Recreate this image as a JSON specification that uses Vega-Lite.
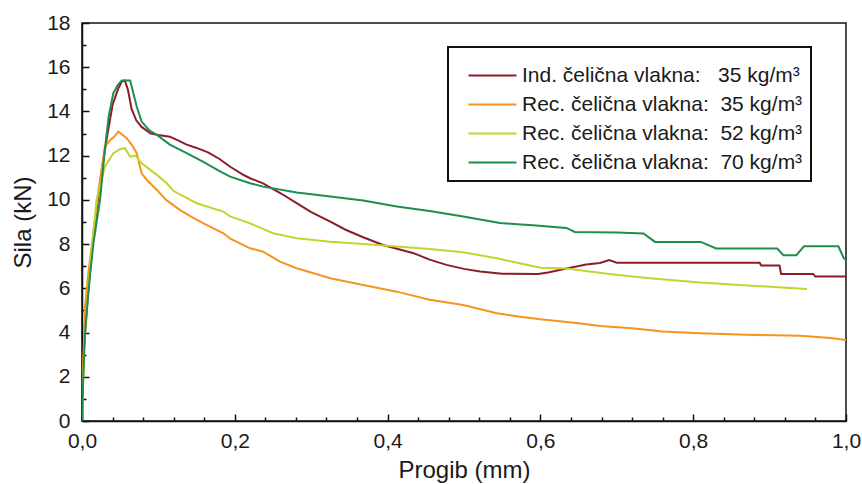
{
  "$schema": "https://vega.github.io/schema/vega-lite/v6.json",
  "width": 764,
  "height": 398,
  "autosize": "none",
  "padding": {"left": 82, "top": 23, "right": 16, "bottom": 63},
  "background": "white",
  "config": {
    "view": {"stroke": "#111", "strokeWidth": 1.5},
    "font": "Liberation Sans",
    "axis": {
      "domainColor": "#111", "domainWidth": 1.5, "tickColor": "#111", "tickWidth": 1.5,
      "labelFont": "Liberation Sans", "labelFontSize": 21, "labelColor": "#1a1a1a",
      "titleFont": "Liberation Sans", "titleFontSize": 24, "titleFontWeight": "normal", "titleColor": "#1a1a1a",
      "grid": false
    }
  },
  "data": {"values": [
    {"s": "Ind. čelična vlakna:\u00a0\u00a0 35 kg/m³", "x": 0, "y": 0},
    {"s": "Ind. čelična vlakna:\u00a0\u00a0 35 kg/m³", "x": 0.001, "y": 2.5},
    {"s": "Ind. čelična vlakna:\u00a0\u00a0 35 kg/m³", "x": 0.004, "y": 4.0},
    {"s": "Ind. čelična vlakna:\u00a0\u00a0 35 kg/m³", "x": 0.008, "y": 5.8},
    {"s": "Ind. čelična vlakna:\u00a0\u00a0 35 kg/m³", "x": 0.013, "y": 7.7},
    {"s": "Ind. čelična vlakna:\u00a0\u00a0 35 kg/m³", "x": 0.02, "y": 9.8},
    {"s": "Ind. čelična vlakna:\u00a0\u00a0 35 kg/m³", "x": 0.027, "y": 11.6},
    {"s": "Ind. čelična vlakna:\u00a0\u00a0 35 kg/m³", "x": 0.033, "y": 12.9},
    {"s": "Ind. čelična vlakna:\u00a0\u00a0 35 kg/m³", "x": 0.04, "y": 14.3},
    {"s": "Ind. čelična vlakna:\u00a0\u00a0 35 kg/m³", "x": 0.047, "y": 15.0},
    {"s": "Ind. čelična vlakna:\u00a0\u00a0 35 kg/m³", "x": 0.052, "y": 15.35},
    {"s": "Ind. čelična vlakna:\u00a0\u00a0 35 kg/m³", "x": 0.056, "y": 15.4},
    {"s": "Ind. čelična vlakna:\u00a0\u00a0 35 kg/m³", "x": 0.06, "y": 15.0},
    {"s": "Ind. čelična vlakna:\u00a0\u00a0 35 kg/m³", "x": 0.065, "y": 14.1},
    {"s": "Ind. čelična vlakna:\u00a0\u00a0 35 kg/m³", "x": 0.071, "y": 13.6},
    {"s": "Ind. čelična vlakna:\u00a0\u00a0 35 kg/m³", "x": 0.078, "y": 13.3},
    {"s": "Ind. čelična vlakna:\u00a0\u00a0 35 kg/m³", "x": 0.09, "y": 13.0},
    {"s": "Ind. čelična vlakna:\u00a0\u00a0 35 kg/m³", "x": 0.1, "y": 12.93},
    {"s": "Ind. čelična vlakna:\u00a0\u00a0 35 kg/m³", "x": 0.115, "y": 12.86},
    {"s": "Ind. čelična vlakna:\u00a0\u00a0 35 kg/m³", "x": 0.125, "y": 12.7},
    {"s": "Ind. čelična vlakna:\u00a0\u00a0 35 kg/m³", "x": 0.137, "y": 12.5},
    {"s": "Ind. čelična vlakna:\u00a0\u00a0 35 kg/m³", "x": 0.15, "y": 12.35},
    {"s": "Ind. čelična vlakna:\u00a0\u00a0 35 kg/m³", "x": 0.165, "y": 12.15},
    {"s": "Ind. čelična vlakna:\u00a0\u00a0 35 kg/m³", "x": 0.18, "y": 11.85},
    {"s": "Ind. čelična vlakna:\u00a0\u00a0 35 kg/m³", "x": 0.194, "y": 11.5},
    {"s": "Ind. čelična vlakna:\u00a0\u00a0 35 kg/m³", "x": 0.21, "y": 11.15},
    {"s": "Ind. čelična vlakna:\u00a0\u00a0 35 kg/m³", "x": 0.22, "y": 10.98},
    {"s": "Ind. čelična vlakna:\u00a0\u00a0 35 kg/m³", "x": 0.237, "y": 10.75},
    {"s": "Ind. čelična vlakna:\u00a0\u00a0 35 kg/m³", "x": 0.26, "y": 10.3},
    {"s": "Ind. čelična vlakna:\u00a0\u00a0 35 kg/m³", "x": 0.281, "y": 9.85},
    {"s": "Ind. čelična vlakna:\u00a0\u00a0 35 kg/m³", "x": 0.3, "y": 9.45},
    {"s": "Ind. čelična vlakna:\u00a0\u00a0 35 kg/m³", "x": 0.325, "y": 9.02},
    {"s": "Ind. čelična vlakna:\u00a0\u00a0 35 kg/m³", "x": 0.345, "y": 8.65},
    {"s": "Ind. čelična vlakna:\u00a0\u00a0 35 kg/m³", "x": 0.368, "y": 8.31},
    {"s": "Ind. čelična vlakna:\u00a0\u00a0 35 kg/m³", "x": 0.394, "y": 7.96},
    {"s": "Ind. čelična vlakna:\u00a0\u00a0 35 kg/m³", "x": 0.434, "y": 7.59},
    {"s": "Ind. čelična vlakna:\u00a0\u00a0 35 kg/m³", "x": 0.455, "y": 7.3},
    {"s": "Ind. čelična vlakna:\u00a0\u00a0 35 kg/m³", "x": 0.477, "y": 7.06},
    {"s": "Ind. čelična vlakna:\u00a0\u00a0 35 kg/m³", "x": 0.5, "y": 6.88},
    {"s": "Ind. čelična vlakna:\u00a0\u00a0 35 kg/m³", "x": 0.521, "y": 6.76},
    {"s": "Ind. čelična vlakna:\u00a0\u00a0 35 kg/m³", "x": 0.55, "y": 6.66},
    {"s": "Ind. čelična vlakna:\u00a0\u00a0 35 kg/m³", "x": 0.597, "y": 6.65},
    {"s": "Ind. čelična vlakna:\u00a0\u00a0 35 kg/m³", "x": 0.61, "y": 6.72},
    {"s": "Ind. čelična vlakna:\u00a0\u00a0 35 kg/m³", "x": 0.634, "y": 6.9},
    {"s": "Ind. čelična vlakna:\u00a0\u00a0 35 kg/m³", "x": 0.66, "y": 7.08},
    {"s": "Ind. čelična vlakna:\u00a0\u00a0 35 kg/m³", "x": 0.678, "y": 7.15},
    {"s": "Ind. čelična vlakna:\u00a0\u00a0 35 kg/m³", "x": 0.69, "y": 7.28},
    {"s": "Ind. čelična vlakna:\u00a0\u00a0 35 kg/m³", "x": 0.7, "y": 7.16},
    {"s": "Ind. čelična vlakna:\u00a0\u00a0 35 kg/m³", "x": 0.887, "y": 7.16},
    {"s": "Ind. čelična vlakna:\u00a0\u00a0 35 kg/m³", "x": 0.889, "y": 7.03},
    {"s": "Ind. čelična vlakna:\u00a0\u00a0 35 kg/m³", "x": 0.913, "y": 7.03},
    {"s": "Ind. čelična vlakna:\u00a0\u00a0 35 kg/m³", "x": 0.915, "y": 6.65},
    {"s": "Ind. čelična vlakna:\u00a0\u00a0 35 kg/m³", "x": 0.957, "y": 6.65},
    {"s": "Ind. čelična vlakna:\u00a0\u00a0 35 kg/m³", "x": 0.96, "y": 6.53},
    {"s": "Ind. čelična vlakna:\u00a0\u00a0 35 kg/m³", "x": 1.0, "y": 6.53},

    {"s": "Rec. čelična vlakna:\u00a0 35 kg/m³", "x": 0, "y": 0},
    {"s": "Rec. čelična vlakna:\u00a0 35 kg/m³", "x": 0.002, "y": 3.0},
    {"s": "Rec. čelična vlakna:\u00a0 35 kg/m³", "x": 0.004, "y": 5.17},
    {"s": "Rec. čelična vlakna:\u00a0 35 kg/m³", "x": 0.008, "y": 6.6},
    {"s": "Rec. čelična vlakna:\u00a0 35 kg/m³", "x": 0.0127, "y": 7.9},
    {"s": "Rec. čelična vlakna:\u00a0 35 kg/m³", "x": 0.021, "y": 10.3},
    {"s": "Rec. čelična vlakna:\u00a0 35 kg/m³", "x": 0.03, "y": 12.4},
    {"s": "Rec. čelična vlakna:\u00a0 35 kg/m³", "x": 0.0366, "y": 12.7},
    {"s": "Rec. čelična vlakna:\u00a0 35 kg/m³", "x": 0.042, "y": 12.85},
    {"s": "Rec. čelična vlakna:\u00a0 35 kg/m³", "x": 0.0475, "y": 13.09},
    {"s": "Rec. čelična vlakna:\u00a0 35 kg/m³", "x": 0.0585, "y": 12.79},
    {"s": "Rec. čelična vlakna:\u00a0 35 kg/m³", "x": 0.065, "y": 12.5},
    {"s": "Rec. čelična vlakna:\u00a0 35 kg/m³", "x": 0.0716, "y": 12.11},
    {"s": "Rec. čelična vlakna:\u00a0 35 kg/m³", "x": 0.078, "y": 11.2},
    {"s": "Rec. čelična vlakna:\u00a0 35 kg/m³", "x": 0.085, "y": 10.9},
    {"s": "Rec. čelična vlakna:\u00a0 35 kg/m³", "x": 0.098, "y": 10.45},
    {"s": "Rec. čelična vlakna:\u00a0 35 kg/m³", "x": 0.11, "y": 10.0},
    {"s": "Rec. čelična vlakna:\u00a0 35 kg/m³", "x": 0.128, "y": 9.55},
    {"s": "Rec. čelična vlakna:\u00a0 35 kg/m³", "x": 0.145, "y": 9.2},
    {"s": "Rec. čelična vlakna:\u00a0 35 kg/m³", "x": 0.159, "y": 8.94},
    {"s": "Rec. čelična vlakna:\u00a0 35 kg/m³", "x": 0.185, "y": 8.49},
    {"s": "Rec. čelična vlakna:\u00a0 35 kg/m³", "x": 0.194, "y": 8.25},
    {"s": "Rec. čelična vlakna:\u00a0 35 kg/m³", "x": 0.22, "y": 7.81},
    {"s": "Rec. čelična vlakna:\u00a0 35 kg/m³", "x": 0.237, "y": 7.66},
    {"s": "Rec. čelična vlakna:\u00a0 35 kg/m³", "x": 0.259, "y": 7.21},
    {"s": "Rec. čelična vlakna:\u00a0 35 kg/m³", "x": 0.281, "y": 6.91},
    {"s": "Rec. čelična vlakna:\u00a0 35 kg/m³", "x": 0.325, "y": 6.46},
    {"s": "Rec. čelična vlakna:\u00a0 35 kg/m³", "x": 0.368, "y": 6.15},
    {"s": "Rec. čelična vlakna:\u00a0 35 kg/m³", "x": 0.412, "y": 5.85},
    {"s": "Rec. čelična vlakna:\u00a0 35 kg/m³", "x": 0.455, "y": 5.48},
    {"s": "Rec. čelična vlakna:\u00a0 35 kg/m³", "x": 0.499, "y": 5.25},
    {"s": "Rec. čelična vlakna:\u00a0 35 kg/m³", "x": 0.543, "y": 4.87},
    {"s": "Rec. čelična vlakna:\u00a0 35 kg/m³", "x": 0.573, "y": 4.72},
    {"s": "Rec. čelična vlakna:\u00a0 35 kg/m³", "x": 0.6, "y": 4.6},
    {"s": "Rec. čelična vlakna:\u00a0 35 kg/m³", "x": 0.65, "y": 4.42},
    {"s": "Rec. čelična vlakna:\u00a0 35 kg/m³", "x": 0.678, "y": 4.3},
    {"s": "Rec. čelična vlakna:\u00a0 35 kg/m³", "x": 0.72, "y": 4.2},
    {"s": "Rec. čelična vlakna:\u00a0 35 kg/m³", "x": 0.76, "y": 4.05},
    {"s": "Rec. čelična vlakna:\u00a0 35 kg/m³", "x": 0.809, "y": 3.97},
    {"s": "Rec. čelična vlakna:\u00a0 35 kg/m³", "x": 0.87, "y": 3.9},
    {"s": "Rec. čelična vlakna:\u00a0 35 kg/m³", "x": 0.94, "y": 3.85},
    {"s": "Rec. čelična vlakna:\u00a0 35 kg/m³", "x": 0.98, "y": 3.75},
    {"s": "Rec. čelična vlakna:\u00a0 35 kg/m³", "x": 1.0, "y": 3.66},

    {"s": "Rec. čelična vlakna:\u00a0 52 kg/m³", "x": 0, "y": 0},
    {"s": "Rec. čelična vlakna:\u00a0 52 kg/m³", "x": 0.001, "y": 1.5},
    {"s": "Rec. čelična vlakna:\u00a0 52 kg/m³", "x": 0.003, "y": 3.5},
    {"s": "Rec. čelična vlakna:\u00a0 52 kg/m³", "x": 0.007, "y": 5.5},
    {"s": "Rec. čelična vlakna:\u00a0 52 kg/m³", "x": 0.012, "y": 7.5},
    {"s": "Rec. čelična vlakna:\u00a0 52 kg/m³", "x": 0.019, "y": 10.0},
    {"s": "Rec. čelična vlakna:\u00a0 52 kg/m³", "x": 0.03, "y": 11.5},
    {"s": "Rec. čelična vlakna:\u00a0 52 kg/m³", "x": 0.041, "y": 12.11},
    {"s": "Rec. čelična vlakna:\u00a0 52 kg/m³", "x": 0.05, "y": 12.3},
    {"s": "Rec. čelična vlakna:\u00a0 52 kg/m³", "x": 0.056, "y": 12.34},
    {"s": "Rec. čelična vlakna:\u00a0 52 kg/m³", "x": 0.063, "y": 11.96},
    {"s": "Rec. čelična vlakna:\u00a0 52 kg/m³", "x": 0.07, "y": 12.0},
    {"s": "Rec. čelična vlakna:\u00a0 52 kg/m³", "x": 0.078, "y": 11.66},
    {"s": "Rec. čelična vlakna:\u00a0 52 kg/m³", "x": 0.098, "y": 11.13},
    {"s": "Rec. čelična vlakna:\u00a0 52 kg/m³", "x": 0.111, "y": 10.75},
    {"s": "Rec. čelična vlakna:\u00a0 52 kg/m³", "x": 0.12, "y": 10.4},
    {"s": "Rec. čelična vlakna:\u00a0 52 kg/m³", "x": 0.15, "y": 9.85},
    {"s": "Rec. čelična vlakna:\u00a0 52 kg/m³", "x": 0.185, "y": 9.47},
    {"s": "Rec. čelična vlakna:\u00a0 52 kg/m³", "x": 0.194, "y": 9.25},
    {"s": "Rec. čelična vlakna:\u00a0 52 kg/m³", "x": 0.22, "y": 8.94},
    {"s": "Rec. čelična vlakna:\u00a0 52 kg/m³", "x": 0.25, "y": 8.49},
    {"s": "Rec. čelična vlakna:\u00a0 52 kg/m³", "x": 0.281, "y": 8.27},
    {"s": "Rec. čelična vlakna:\u00a0 52 kg/m³", "x": 0.325, "y": 8.11},
    {"s": "Rec. čelična vlakna:\u00a0 52 kg/m³", "x": 0.368, "y": 8.0},
    {"s": "Rec. čelična vlakna:\u00a0 52 kg/m³", "x": 0.412, "y": 7.89},
    {"s": "Rec. čelična vlakna:\u00a0 52 kg/m³", "x": 0.455, "y": 7.78},
    {"s": "Rec. čelična vlakna:\u00a0 52 kg/m³", "x": 0.499, "y": 7.63},
    {"s": "Rec. čelična vlakna:\u00a0 52 kg/m³", "x": 0.543, "y": 7.36},
    {"s": "Rec. čelična vlakna:\u00a0 52 kg/m³", "x": 0.573, "y": 7.13},
    {"s": "Rec. čelična vlakna:\u00a0 52 kg/m³", "x": 0.6, "y": 6.93},
    {"s": "Rec. čelična vlakna:\u00a0 52 kg/m³", "x": 0.634, "y": 6.9},
    {"s": "Rec. čelična vlakna:\u00a0 52 kg/m³", "x": 0.69, "y": 6.65},
    {"s": "Rec. čelična vlakna:\u00a0 52 kg/m³", "x": 0.743, "y": 6.46},
    {"s": "Rec. čelična vlakna:\u00a0 52 kg/m³", "x": 0.809, "y": 6.26},
    {"s": "Rec. čelična vlakna:\u00a0 52 kg/m³", "x": 0.896, "y": 6.08},
    {"s": "Rec. čelična vlakna:\u00a0 52 kg/m³", "x": 0.949, "y": 5.97},

    {"s": "Rec. čelična vlakna:\u00a0 70 kg/m³", "x": 0, "y": 0},
    {"s": "Rec. čelična vlakna:\u00a0 70 kg/m³", "x": 0.0017, "y": 2.0},
    {"s": "Rec. čelična vlakna:\u00a0 70 kg/m³", "x": 0.004, "y": 3.98},
    {"s": "Rec. čelična vlakna:\u00a0 70 kg/m³", "x": 0.0075, "y": 5.47},
    {"s": "Rec. čelična vlakna:\u00a0 70 kg/m³", "x": 0.0105, "y": 6.6},
    {"s": "Rec. čelična vlakna:\u00a0 70 kg/m³", "x": 0.015, "y": 8.04},
    {"s": "Rec. čelična vlakna:\u00a0 70 kg/m³", "x": 0.02, "y": 9.2},
    {"s": "Rec. čelična vlakna:\u00a0 70 kg/m³", "x": 0.0236, "y": 10.0},
    {"s": "Rec. čelična vlakna:\u00a0 70 kg/m³", "x": 0.03, "y": 12.3},
    {"s": "Rec. čelična vlakna:\u00a0 70 kg/m³", "x": 0.035, "y": 13.8},
    {"s": "Rec. čelična vlakna:\u00a0 70 kg/m³", "x": 0.041, "y": 14.83},
    {"s": "Rec. čelična vlakna:\u00a0 70 kg/m³", "x": 0.047, "y": 15.2},
    {"s": "Rec. čelična vlakna:\u00a0 70 kg/m³", "x": 0.052, "y": 15.4},
    {"s": "Rec. čelična vlakna:\u00a0 70 kg/m³", "x": 0.063, "y": 15.4},
    {"s": "Rec. čelična vlakna:\u00a0 70 kg/m³", "x": 0.0716, "y": 14.22},
    {"s": "Rec. čelična vlakna:\u00a0 70 kg/m³", "x": 0.078, "y": 13.54},
    {"s": "Rec. čelična vlakna:\u00a0 70 kg/m³", "x": 0.088, "y": 13.15},
    {"s": "Rec. čelična vlakna:\u00a0 70 kg/m³", "x": 0.098, "y": 12.94},
    {"s": "Rec. čelična vlakna:\u00a0 70 kg/m³", "x": 0.115, "y": 12.5},
    {"s": "Rec. čelična vlakna:\u00a0 70 kg/m³", "x": 0.137, "y": 12.11},
    {"s": "Rec. čelična vlakna:\u00a0 70 kg/m³", "x": 0.16, "y": 11.7},
    {"s": "Rec. čelična vlakna:\u00a0 70 kg/m³", "x": 0.18, "y": 11.3},
    {"s": "Rec. čelična vlakna:\u00a0 70 kg/m³", "x": 0.194, "y": 11.05},
    {"s": "Rec. čelična vlakna:\u00a0 70 kg/m³", "x": 0.22, "y": 10.75},
    {"s": "Rec. čelična vlakna:\u00a0 70 kg/m³", "x": 0.237, "y": 10.6},
    {"s": "Rec. čelična vlakna:\u00a0 70 kg/m³", "x": 0.281, "y": 10.33},
    {"s": "Rec. čelična vlakna:\u00a0 70 kg/m³", "x": 0.325, "y": 10.15},
    {"s": "Rec. čelična vlakna:\u00a0 70 kg/m³", "x": 0.368, "y": 9.97},
    {"s": "Rec. čelična vlakna:\u00a0 70 kg/m³", "x": 0.412, "y": 9.7},
    {"s": "Rec. čelična vlakna:\u00a0 70 kg/m³", "x": 0.455, "y": 9.5},
    {"s": "Rec. čelična vlakna:\u00a0 70 kg/m³", "x": 0.499, "y": 9.25},
    {"s": "Rec. čelična vlakna:\u00a0 70 kg/m³", "x": 0.547, "y": 8.95},
    {"s": "Rec. čelična vlakna:\u00a0 70 kg/m³", "x": 0.57, "y": 8.9},
    {"s": "Rec. čelična vlakna:\u00a0 70 kg/m³", "x": 0.59, "y": 8.85},
    {"s": "Rec. čelična vlakna:\u00a0 70 kg/m³", "x": 0.634, "y": 8.73},
    {"s": "Rec. čelična vlakna:\u00a0 70 kg/m³", "x": 0.645, "y": 8.55},
    {"s": "Rec. čelična vlakna:\u00a0 70 kg/m³", "x": 0.7, "y": 8.52},
    {"s": "Rec. čelična vlakna:\u00a0 70 kg/m³", "x": 0.735, "y": 8.48},
    {"s": "Rec. čelična vlakna:\u00a0 70 kg/m³", "x": 0.75, "y": 8.1},
    {"s": "Rec. čelična vlakna:\u00a0 70 kg/m³", "x": 0.81, "y": 8.1},
    {"s": "Rec. čelična vlakna:\u00a0 70 kg/m³", "x": 0.83, "y": 7.8},
    {"s": "Rec. čelična vlakna:\u00a0 70 kg/m³", "x": 0.91, "y": 7.8},
    {"s": "Rec. čelična vlakna:\u00a0 70 kg/m³", "x": 0.918, "y": 7.5},
    {"s": "Rec. čelična vlakna:\u00a0 70 kg/m³", "x": 0.935, "y": 7.5},
    {"s": "Rec. čelična vlakna:\u00a0 70 kg/m³", "x": 0.945, "y": 7.9},
    {"s": "Rec. čelična vlakna:\u00a0 70 kg/m³", "x": 0.99, "y": 7.9},
    {"s": "Rec. čelična vlakna:\u00a0 70 kg/m³", "x": 0.997, "y": 7.37},
    {"s": "Rec. čelična vlakna:\u00a0 70 kg/m³", "x": 1.0, "y": 7.3}
  ]},
  "mark": {"type": "line", "strokeWidth": 2, "interpolate": "linear", "clip": true},
  "encoding": {
    "x": {
      "field": "x", "type": "quantitative",
      "scale": {"domain": [0, 1], "nice": false},
      "axis": {
        "title": "Progib (mm)",
        "values": [0, 0.04, 0.08, 0.12, 0.16, 0.2, 0.24, 0.28, 0.32, 0.36, 0.4, 0.44, 0.48, 0.52, 0.56, 0.6, 0.64, 0.68, 0.72, 0.76, 0.8, 0.84, 0.88, 0.92, 0.96, 1.0],
        "labelExpr": "abs(datum.value*5 - round(datum.value*5)) < 0.001 ? replace(format(datum.value, '.1f'), '.', ',') : ''",
        "tickSize": {"condition": {"test": "abs(datum.value*5 - round(datum.value*5)) < 0.001", "value": -7}, "value": -4},
        "labelPadding": 16,
        "labelFlush": false,
        "labelOverlap": false,
        "titlePadding": 4
      }
    },
    "y": {
      "field": "y", "type": "quantitative",
      "scale": {"domain": [0, 18], "nice": false},
      "axis": {
        "title": "Sila (kN)",
        "values": [0, 1, 2, 3, 4, 5, 6, 7, 8, 9, 10, 11, 12, 13, 14, 15, 16, 17, 18],
        "labelExpr": "datum.value % 2 === 0 ? datum.label : ''",
        "tickSize": {"condition": {"test": "datum.value % 2 === 0", "value": -7}, "value": -4},
        "labelPadding": 19,
        "labelOverlap": false,
        "titlePadding": 11
      }
    },
    "color": {
      "field": "s", "type": "nominal",
      "scale": {
        "domain": ["Ind. čelična vlakna:\u00a0\u00a0 35 kg/m³", "Rec. čelična vlakna:\u00a0 35 kg/m³", "Rec. čelična vlakna:\u00a0 52 kg/m³", "Rec. čelična vlakna:\u00a0 70 kg/m³"],
        "range": ["#8c1c2a", "#f7931e", "#c3d431", "#1f8d4c"]
      },
      "legend": {
        "title": "\u00a0",
        "titleFontSize": 6,
        "titlePadding": 4,
        "orient": "none",
        "legendX": 366,
        "legendY": 24,
        "strokeColor": "#111",
        "fillColor": "white",
        "padding": 8,
        "symbolType": "M0.333,0H8.333",
        "symbolSize": 144,
        "symbolStrokeWidth": 2,
        "labelFont": "Liberation Sans",
        "labelFontSize": 21,
        "labelColor": "#1a1a1a",
        "labelOffset": 45,
        "rowPadding": 7,
        "labelLimit": 400,
        "encode": {"legend": {"update": {"strokeWidth": {"value": 2}}}}
      }
    }
  }
}
